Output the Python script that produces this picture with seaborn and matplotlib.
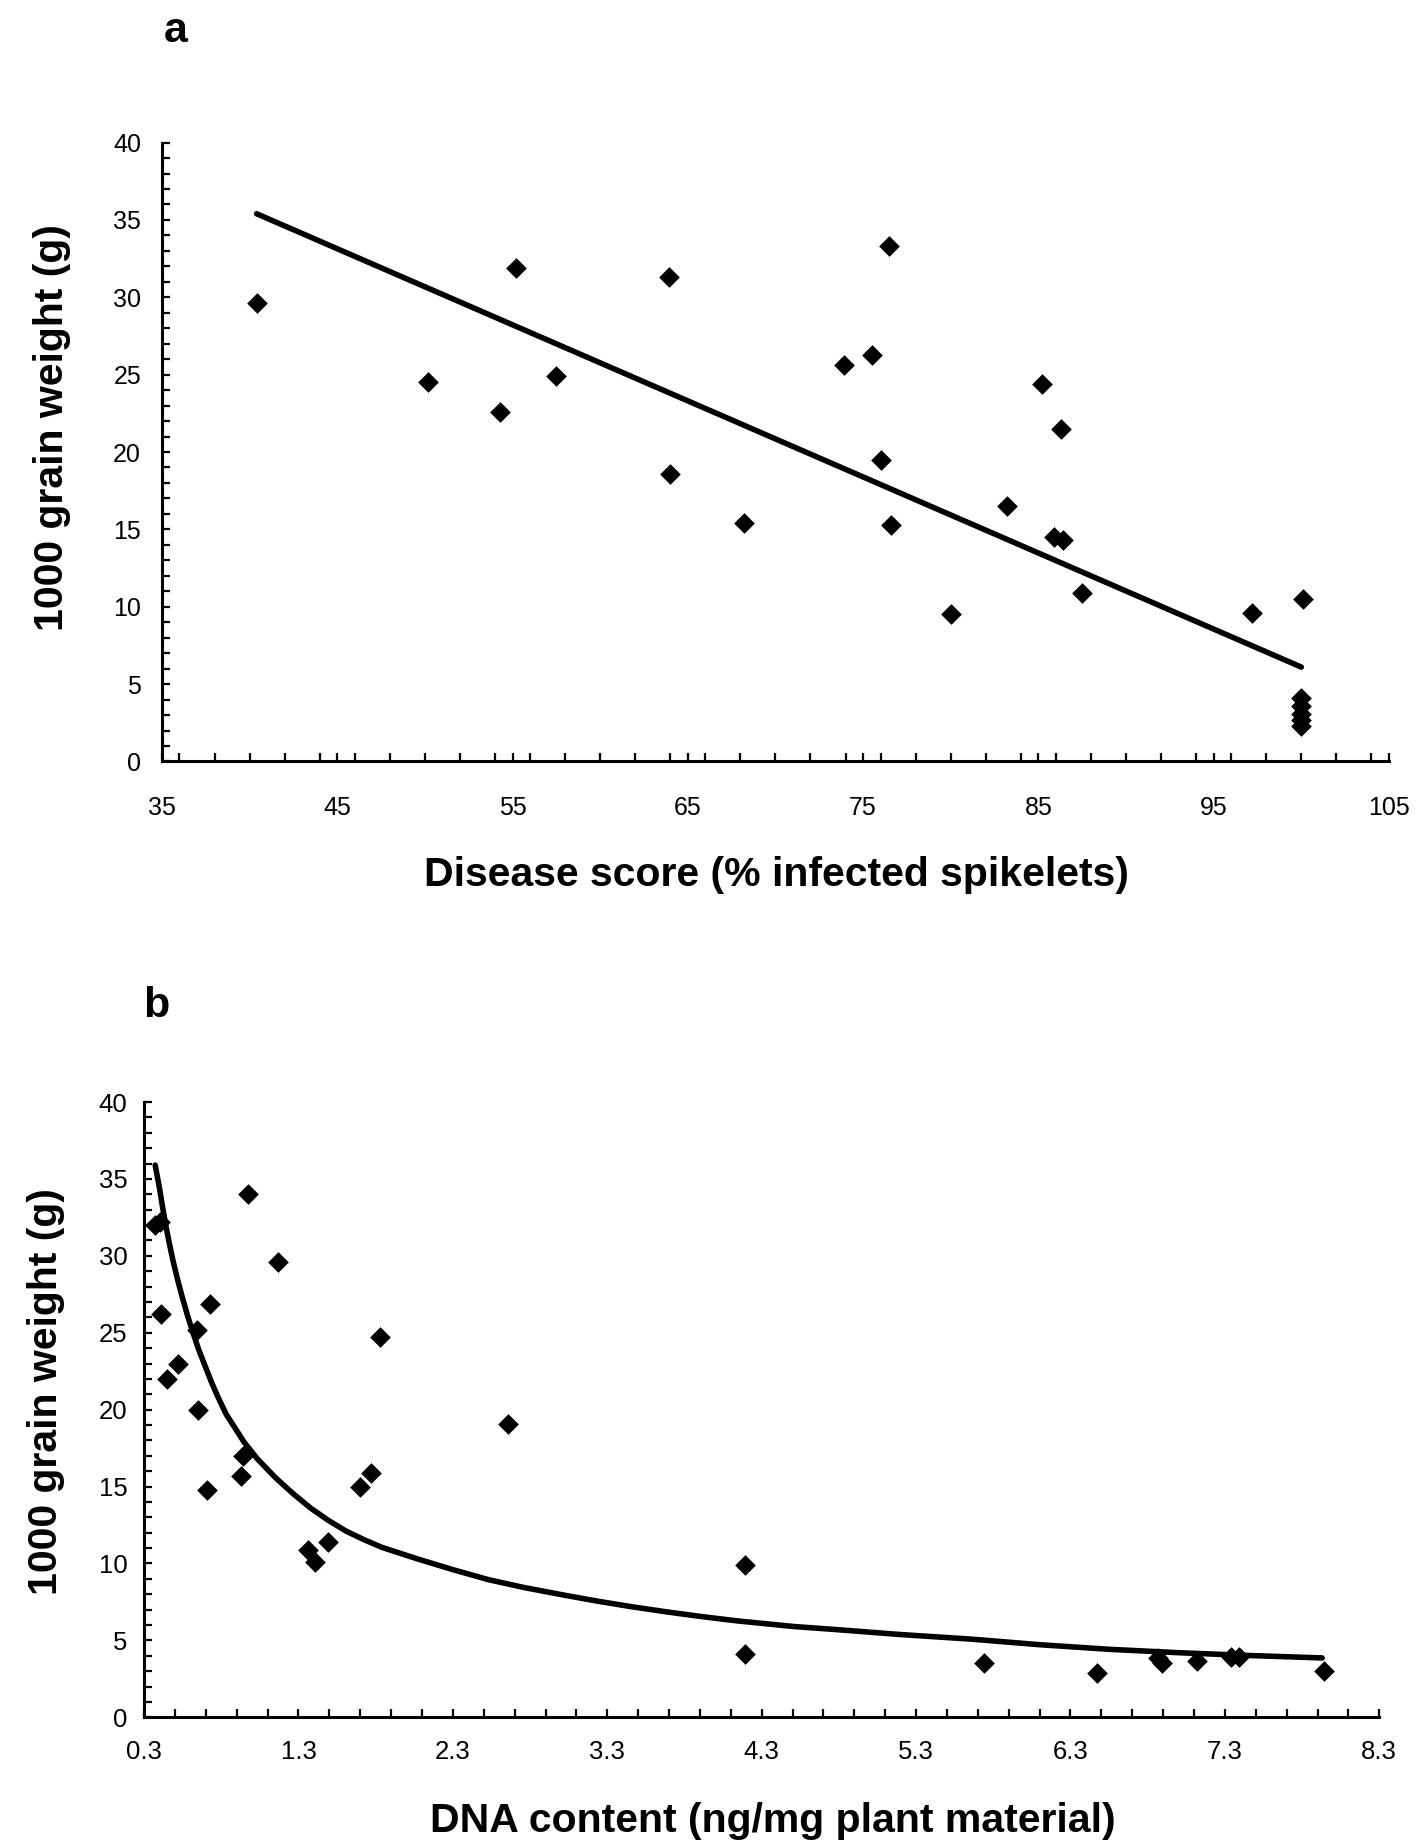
import numpy as np
import pandas as pd
import matplotlib
matplotlib.use('Agg')
import matplotlib.pyplot as plt
import seaborn as sns
from matplotlib.ticker import MultipleLocator

sns.set_theme(style='ticks')
plt.rcParams['font.family'] = ['Liberation Sans', 'DejaVu Sans']
plt.rcParams['text.color'] = 'black'
plt.rcParams['axes.labelcolor'] = 'black'

# 面板a：病情指数 vs 千粒重
disease_score = [40.4, 50.2, 54.3, 55.2, 57.5, 63.9, 64.0, 68.2, 73.9, 75.5,
                 76.0, 76.5, 76.6, 80.0, 83.2, 85.2, 85.9, 86.3, 86.4, 87.5,
                 97.2, 100.1, 100.0, 100.0, 100.0, 100.0, 100.0]
grain_weight_a = [29.6, 24.5, 22.6, 31.9, 24.9, 31.3, 18.6, 15.4, 25.6, 26.3,
                  19.5, 33.3, 15.3, 9.5, 16.5, 24.4, 14.5, 21.5, 14.3, 10.9,
                  9.6, 10.5, 4.1, 3.6, 3.1, 2.7, 2.3]
# 线性趋势线的两个端点
fit_a_x = [40.4, 100.0]
fit_a_y = [35.4, 6.1]

# 面板b：DNA含量 vs 千粒重
dna_content = [0.37, 0.40, 0.41, 0.45, 0.52, 0.645, 0.65, 0.71, 0.73, 0.93,
               0.94, 0.97, 1.17, 1.36, 1.41, 1.49, 1.70, 1.77, 1.83, 2.66,
               4.19, 4.19, 5.74, 6.47, 6.87, 6.89, 7.12, 7.34, 7.39, 7.94]
grain_weight_b = [32.0, 32.2, 26.2, 22.0, 23.0, 25.2, 20.0, 14.8, 26.9, 15.7,
                  17.0, 34.0, 29.6, 10.9, 10.1, 11.4, 15.0, 15.9, 24.7, 19.1,
                  9.9, 4.1, 3.55, 2.9, 3.85, 3.55, 3.65, 3.95, 3.95, 3.0]
# 幂函数趋势线（从图上读取的点）
curve_b_x = [0.372, 0.40, 0.421, 0.444, 0.464, 0.487, 0.516, 0.545, 0.582, 0.617,
             0.654, 0.689, 0.732, 0.775, 0.832, 0.947, 1.034, 1.149, 1.264, 1.379,
             1.494, 1.609, 1.724, 1.84, 2.07, 2.30, 2.53, 2.76, 2.99, 3.22,
             3.45, 3.68, 3.91, 4.14, 4.51, 4.76, 5.20, 5.66, 6.10, 6.55,
             7.00, 7.45, 7.93]
curve_b_y = [35.9, 34.4, 33.1, 31.8, 30.8, 29.7, 28.5, 27.4, 26.1, 25.0,
             23.9, 23.0, 21.9, 20.9, 19.7, 17.9, 16.8, 15.6, 14.55, 13.6,
             12.8, 12.1, 11.55, 11.05, 10.3, 9.6, 8.95, 8.44, 8.0, 7.58,
             7.2, 6.86, 6.55, 6.27, 5.9, 5.72, 5.38, 5.08, 4.72, 4.42,
             4.2, 4.02, 3.86]

x_ticks_a = [35, 45, 55, 65, 75, 85, 95, 105]
x_ticks_b = [0.3, 1.3, 2.3, 3.3, 4.3, 5.3, 6.3, 7.3, 8.3]
x_labels_b = ['0.3', '1.3', '2.3', '3.3', '4.3', '5.3', '6.3', '7.3', '8.3']
y_ticks = [0, 5, 10, 15, 20, 25, 30, 35, 40]

df_a = pd.DataFrame({'x': disease_score, 'y': grain_weight_a})
df_b = pd.DataFrame({'x': dna_content, 'y': grain_weight_b})

fig = plt.figure(figsize=(14.18, 18.42), dpi=100)
ax1 = fig.add_axes([0.1142, 0.5866, 0.8653, 0.3360])
ax2 = fig.add_axes([0.1016, 0.0677, 0.8711, 0.3340])

label_font = dict(family=['Liberation Sans', 'DejaVu Sans'], weight='bold', size=29.5, color='black')


def style_axes(ax, xpad, ypad, tsize):
    sns.despine(ax=ax)
    for side in ['left', 'bottom']:
        ax.spines[side].set_linewidth(2.2)
        ax.spines[side].set_color('black')
    ax.tick_params(which='both', direction='in', length=6, width=1.6, color='black',
                   top=False, right=False)
    ax.tick_params(axis='x', which='major', pad=xpad, labelsize=tsize, labelcolor='black')
    ax.tick_params(axis='y', which='major', pad=ypad, labelsize=tsize, labelcolor='black')
    ax.set_facecolor('white')
    ax.grid(False)


# 面板a
sns.scatterplot(data=df_a, x='x', y='y', marker='D', s=100, color='black',
                edgecolor='black', linewidth=0.5, ax=ax1, zorder=3)
sns.lineplot(x=fit_a_x, y=fit_a_y, color='black', linewidth=4.0, ax=ax1, zorder=2)
ax1.set_xlim(35, 105)
ax1.set_ylim(0, 40)
ax1.set_xticks(x_ticks_a)
ax1.set_yticks(y_ticks)
ax1.xaxis.set_minor_locator(MultipleLocator(2))
ax1.yaxis.set_minor_locator(MultipleLocator(1))
style_axes(ax1, 25, 15, 18)
ax1.set_xlabel('Disease score (% infected spikelets)', fontdict=label_font, va='baseline')
ax1.set_ylabel('1000 grain weight (g)', fontdict=label_font, va='center')
ax1.xaxis.set_label_coords(0.501, -0.201)
ax1.yaxis.set_label_coords(-0.0896, 0.54)

# 面板b
sns.scatterplot(data=df_b, x='x', y='y', marker='D', s=100, color='black',
                edgecolor='black', linewidth=0.5, ax=ax2, zorder=3)
sns.lineplot(x=curve_b_x, y=curve_b_y, color='black', linewidth=4.0, ax=ax2, zorder=2)
ax2.set_xlim(0.3, 8.3)
ax2.set_ylim(0, 40)
ax2.set_xticks(x_ticks_b)
ax2.set_xticklabels(x_labels_b)
ax2.set_yticks(y_ticks)
ax2.xaxis.set_minor_locator(MultipleLocator(0.2, offset=0.3))
ax2.yaxis.set_minor_locator(MultipleLocator(1))
style_axes(ax2, 16, 12, 18.5)
ax2.set_xlabel('DNA content (ng/mg plant material)', fontdict=label_font, va='baseline')
ax2.set_ylabel('1000 grain weight (g)', fontdict=label_font, va='center')
ax2.xaxis.set_label_coords(0.509, -0.186)
ax2.yaxis.set_label_coords(-0.079, 0.53)

fig.text(0.1241, 0.9774, 'a', fontsize=31, fontweight='bold', ha='center', va='baseline', color='black')
fig.text(0.110, 0.4479, 'b', fontsize=31, fontweight='bold', ha='center', va='baseline', color='black')

fig.savefig('out.png', dpi=100, facecolor='white')
plt.close(fig)
